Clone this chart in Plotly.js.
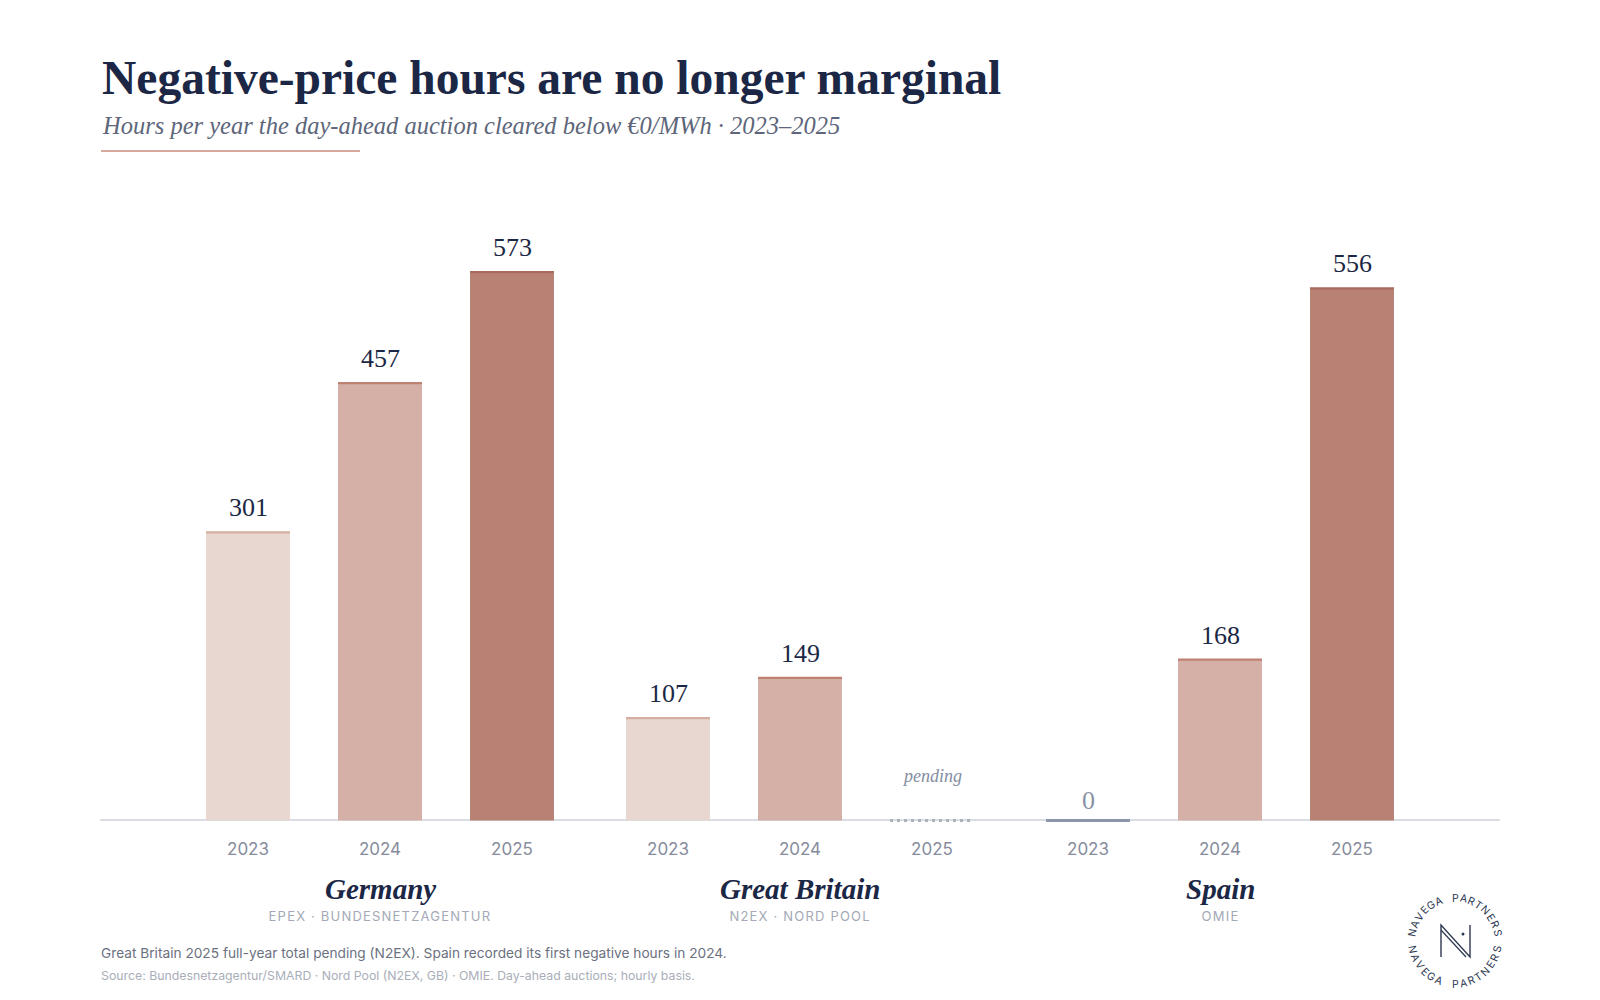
<!DOCTYPE html>
<html>
<head>
<meta charset="utf-8">
<script src="https://cdn.plot.ly/plotly-3.0.1.min.js"></script>
<style>
  html, body { margin: 0; padding: 0; background: #ffffff; }
  #chart { width: 1600px; height: 1000px; }
</style>
</head>
<body>
<div id="chart"></div>
<script>
// ---------------- DATA ----------------
const countries = ['Germany', 'Great Britain', 'Spain'];
const sources = ['EPEX · BUNDESNETZAGENTUR', 'N2EX · NORD POOL', 'OMIE'];
const years = ['2023', '2024', '2025'];
const hours2023 = [301, 107, 0];
const hours2024 = [457, 149, 168];
const hours2025 = [573, null, 556];   // null = pending
const pendingLabel = 'pending';
const titleText = 'Negative-price hours are no longer marginal';
const subtitleText = 'Hours per year the day-ahead auction cleared below €0/MWh · 2023–2025';
const noteText = 'Great Britain 2025 full-year total pending (N2EX). Spain recorded its first negative hours in 2024.';
const sourceText = 'Source: Bundesnetzagentur/SMARD · Nord Pool (N2EX, GB) · OMIE. Day-ahead auctions; hourly basis.';
const logoText = 'NAVEGA PARTNERS';

// ---------------- STYLE ----------------
const W = 1600, H = 1000;
const M = { l: 100, r: 100, t: 210, b: 170 };
const PW = W - M.l - M.r, PH = H - M.t - M.b;
const SERIF = '"Liberation Serif", "DejaVu Serif", serif';
const SANS = 'Inter, "DejaVu Sans", sans-serif';
const NAVY = '#1b2745';
const fills = ['#e8d7d1', '#d4b0a7', '#b88174'];
const caps = ['#d6aea1', '#bf8272', '#a86b5c'];
const GAP = 0.1818;       // extra spacing between country groups (category units)
const BW = 0.636;         // bar width (category units)
const XR = [-1.1212, 9.4848];
const YR = [-10, 638];

const series = [hours2023, hours2024, hours2025];
const pos = (g, i) => g * (3 + GAP) + i;
const pxp = p => (p - M.l) / PW;                 // pixel x -> paper
const pyp = p => (H - M.b - p) / PH;             // pixel y -> paper

// ---------------- TRACES ----------------
const traces = [];
years.forEach((yr, j) => {
  traces.push({
    type: 'bar',
    x: countries.map((c, g) => pos(g, j)),
    y: series[j].map(v => (v === null ? null : v)),
    width: BW,
    marker: { color: fills[j], line: { width: 0 } },
    hoverinfo: 'skip',
    showlegend: false
  });
});
// top accent lines on bars
years.forEach((yr, j) => {
  const xs = [], ys = [];
  series[j].forEach((v, g) => {
    if (v !== null && v > 0) {
      xs.push(pos(g, j) - BW / 2, pos(g, j) + BW / 2, null);
      ys.push(v, v, null);
    }
  });
  traces.push({
    type: 'scatter', mode: 'lines', x: xs, y: ys,
    line: { color: caps[j], width: 2.2 }, hoverinfo: 'skip', showlegend: false
  });
});
// zero-value and pending baselines
const zx = [], zy = [], px = [], py = [];
series.forEach((arr, j) => arr.forEach((v, g) => {
  if (v === 0) { zx.push(pos(g, j) - BW / 2, pos(g, j) + BW / 2, null); zy.push(0, 0, null); }
  if (v === null) { px.push(pos(g, j) - BW / 2, pos(g, j) + BW / 2, null); py.push(0, 0, null); }
}));
traces.push({ type: 'scatter', mode: 'lines', x: zx, y: zy,
  line: { color: '#8d96a8', width: 3 }, hoverinfo: 'skip', showlegend: false });
traces.push({ type: 'scatter', mode: 'lines', x: px, y: py,
  line: { color: '#aab0bc', width: 3, dash: '3px,4px' }, hoverinfo: 'skip', showlegend: false });

// ---------------- ANNOTATIONS ----------------
const annotations = [];
const spacedIdx = [];
// value labels
series.forEach((arr, j) => arr.forEach((v, g) => {
  if (v === null) {
    annotations.push({ x: pos(g, j), y: 0, xref: 'x', yref: 'y', text: pendingLabel,
      showarrow: false, yanchor: 'bottom', yshift: 32,
      font: { family: SERIF, size: 18, style: 'italic', color: '#858ea2' } });
  } else {
    annotations.push({ x: pos(g, j), y: v, xref: 'x', yref: 'y', text: String(v),
      showarrow: false, yanchor: 'bottom', yshift: v === 0 ? 3 : 8,
      font: { family: SERIF, size: 26, color: v === 0 ? '#8a93a6' : NAVY } });
  }
}));
// country names + sources
countries.forEach((c, g) => {
  annotations.push({ x: pos(g, 1), y: pyp(889), xref: 'x', yref: 'paper', text: c,
    showarrow: false, yanchor: 'middle',
    font: { family: SERIF, size: 29, style: 'italic', weight: 'bold', color: NAVY } });
  spacedIdx.push(annotations.length);
  annotations.push({ x: pos(g, 1), y: pyp(916), xref: 'x', yref: 'paper', text: sources[g],
    showarrow: false, yanchor: 'middle',
    font: { family: SANS, size: 13, color: '#a3a9b6' } });
});
// title, subtitle, notes
annotations.push({ x: pxp(100), y: pyp(78), xref: 'paper', yref: 'paper', xanchor: 'left', yanchor: 'middle',
  text: titleText, showarrow: false, font: { family: SERIF, size: 47.5, weight: 'bold', color: NAVY } });
annotations.push({ x: pxp(100), y: pyp(126), xref: 'paper', yref: 'paper', xanchor: 'left', yanchor: 'middle',
  text: subtitleText, showarrow: false, font: { family: SERIF, size: 24.5, style: 'italic', color: '#5d667a' } });
annotations.push({ x: pxp(99), y: pyp(953), xref: 'paper', yref: 'paper', xanchor: 'left', yanchor: 'middle',
  text: noteText, showarrow: false, font: { family: SANS, size: 13.7, color: '#6b7180' } });
annotations.push({ x: pxp(99), y: pyp(975), xref: 'paper', yref: 'paper', xanchor: 'left', yanchor: 'middle',
  text: sourceText, showarrow: false, font: { family: SANS, size: 12.3, color: '#a9aeb9' } });

// logo ring text
const LCX = 1455, LCY = 941, LR = 43;
const chars = logoText.split('');
const span = 79, step = (2 * span) / (chars.length - 1);
chars.forEach((ch, k) => {
  if (ch === ' ') return;
  const th = -span + k * step;               // top arc, clockwise from 12 o'clock
  const r = th * Math.PI / 180;
  annotations.push({ x: pxp(LCX + LR * Math.sin(r)), y: pyp(LCY - LR * Math.cos(r)),
    xref: 'paper', yref: 'paper', text: ch, showarrow: false, textangle: th,
    xanchor: 'center', yanchor: 'middle', font: { family: SANS, size: 10.5, color: '#2d3752' } });
  const ph = -span + k * step;               // bottom arc, left to right
  const q = ph * Math.PI / 180;
  annotations.push({ x: pxp(LCX + LR * Math.sin(q)), y: pyp(LCY + LR * Math.cos(q)),
    xref: 'paper', yref: 'paper', text: ch, showarrow: false, textangle: -ph,
    xanchor: 'center', yanchor: 'middle', font: { family: SANS, size: 10.5, color: '#2d3752' } });
});
[-1, 1].forEach(s => {
  annotations.push({ x: pxp(LCX + s * LR), y: pyp(LCY), xref: 'paper', yref: 'paper', text: '·',
    showarrow: false, font: { family: SANS, size: 10, color: '#9aa1b0' } });
});

// ---------------- SHAPES ----------------
const P = (x, y) => pxp(x).toFixed(5) + ',' + pyp(y).toFixed(5);
const shapes = [
  { type: 'line', xref: 'paper', yref: 'paper', x0: pxp(101), x1: pxp(360), y0: pyp(151), y1: pyp(151),
    line: { color: '#d5aa9b', width: 2 } },
  // logo "N"
  { type: 'path', xref: 'paper', yref: 'paper',
    path: 'M' + P(1441, 957) + 'L' + P(1441, 925) + 'L' + P(1470, 957) + 'L' + P(1470, 925),
    line: { color: '#2d3752', width: 1.4 } },
  { type: 'path', xref: 'paper', yref: 'paper',
    path: 'M' + P(1441, 930) + 'L' + P(1466, 957),
    line: { color: '#2d3752', width: 1.2 } },
  { type: 'circle', xref: 'paper', yref: 'paper', x0: pxp(1461.5), x1: pxp(1464.5), y0: pyp(932.5), y1: pyp(935.5),
    fillcolor: '#2d3752', line: { width: 0 } }
];

const layout = {
  width: W, height: H,
  margin: M,
  paper_bgcolor: '#ffffff', plot_bgcolor: '#ffffff',
  showlegend: false,
  barmode: 'overlay',
  xaxis: {
    range: XR, showgrid: false, zeroline: false, showline: false,
    tickvals: countries.flatMap((c, g) => years.map((y, j) => pos(g, j))),
    ticktext: countries.flatMap(() => years),
    ticks: '', ticklabelstandoff: 7,
    tickfont: { family: SANS, size: 17, color: '#868c9c' },
    fixedrange: true
  },
  yaxis: {
    range: YR, showgrid: false, showticklabels: false, ticks: '',
    zeroline: true, zerolinecolor: '#dadde3', zerolinewidth: 2, fixedrange: true
  },
  annotations: annotations,
  shapes: shapes
};

// letter-spacing for source sublabels
const css = spacedIdx.map(i => 'g.annotation[data-index="' + i + '"] text{letter-spacing:1.2px;}').join('\n');
const st = document.createElement('style'); st.textContent = css; document.head.appendChild(st);

Plotly.newPlot('chart', traces, layout, { displayModeBar: false, staticPlot: true });
</script>
</body>
</html>
